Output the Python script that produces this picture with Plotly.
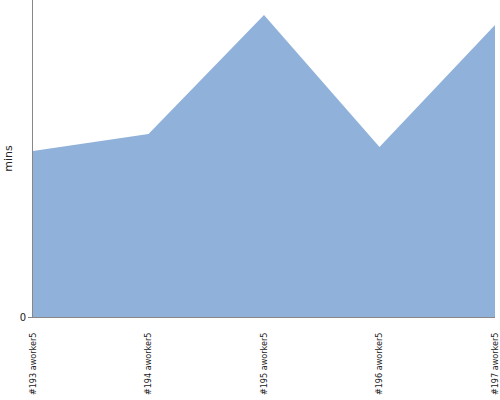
import plotly.graph_objects as go

builds = ["#193 aworker5", "#194 aworker5", "#195 aworker5", "#196 aworker5", "#197 aworker5"]
mins = [16.6, 18.3, 30.2, 17.0, 29.2]
y_max = 31.7

fig = go.Figure()
fig.add_trace(go.Scatter(
    x=list(range(len(builds))), y=mins, mode="lines", fill="tozeroy",
    line=dict(width=0, color="#8fb1da"), fillcolor="#8fb1da",
    hoverinfo="skip", showlegend=False,
))
fig.update_layout(
    width=500, height=400,
    margin=dict(l=33, r=5, t=0, b=83, pad=0),
    paper_bgcolor="white", plot_bgcolor="white",
    font=dict(family="DejaVu Sans", color="#222"),
)
fig.update_xaxes(
    range=[0, len(builds) - 1], tickvals=list(range(len(builds))), ticktext=builds,
    tickangle=-90, tickfont=dict(size=9, family="DejaVu Sans Condensed"),
    showgrid=False, zeroline=False, showline=True, linecolor="#888", linewidth=1,
    ticks="", ticklen=0, ticklabelstandoff=11, automargin=False,
)
fig.update_yaxes(
    range=[0, y_max], tickvals=[0], ticktext=["0"],
    tickfont=dict(size=10, family="DejaVu Sans"),
    title=dict(text="mins", font=dict(size=11), standoff=4),
    showgrid=False, zeroline=False, showline=True, linecolor="#888", linewidth=1,
    ticks="outside", ticklen=4, tickcolor="#888", automargin=False,
)
fig.write_html(
    "out.html",
    config={"displayModeBar": False},
    post_script="document.body.style.margin='0';document.body.style.overflow='hidden';",
)
